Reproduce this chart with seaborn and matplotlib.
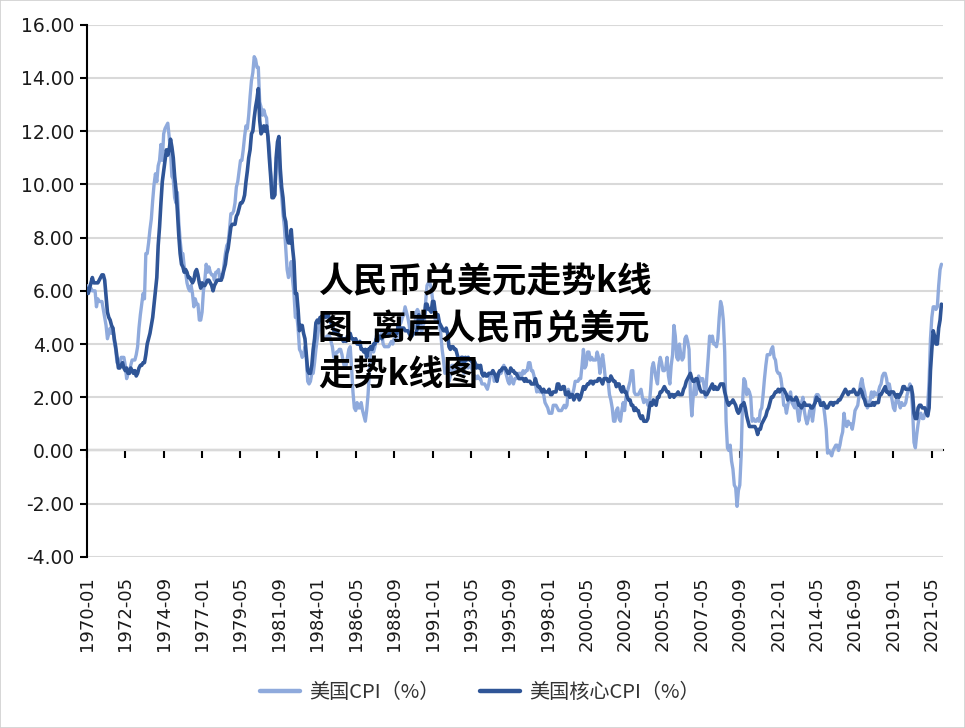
import matplotlib
matplotlib.use("Agg")
import matplotlib.pyplot as plt
from matplotlib.ticker import FormatStrFormatter
from matplotlib.patches import Rectangle
import seaborn as sns
import pandas as pd
import numpy as np

# ---------------- data (monthly YoY %, 1970-01 .. 2021-12) ----------------
months = pd.period_range("1970-01", "2021-12", freq="M").strftime("%Y-%m").tolist()

cpi = [
    6.2, 6.1, 6.0, 6.1, 6.0, 6.0, 6.0, 5.4, 5.7, 5.6, 5.6, 5.6,   # 1970
    5.3, 5.0, 4.7, 4.2, 4.4, 4.6, 4.4, 4.6, 4.1, 3.8, 3.3, 3.3,   # 1971
    3.3, 3.5, 3.5, 3.5, 3.2, 2.7, 2.9, 2.9, 3.2, 3.4, 3.4, 3.4,   # 1972
    3.6, 3.9, 4.6, 5.1, 5.5, 5.9, 5.7, 7.4, 7.4, 7.8, 8.3, 8.7,   # 1973
    9.4, 10.0, 10.4, 10.1, 10.7, 10.9, 11.5, 10.9, 11.9, 12.1, 12.2, 12.3,  # 1974
    11.8, 11.2, 10.3, 10.2, 9.5, 9.3, 9.7, 8.6, 7.9, 7.4, 7.4, 6.9,  # 1975
    6.7, 6.3, 6.1, 6.0, 6.2, 5.9, 5.4, 5.7, 5.5, 5.5, 4.9, 4.9,   # 1976
    5.2, 6.0, 6.4, 7.0, 6.7, 6.9, 6.7, 6.6, 6.6, 6.4, 6.7, 6.7,   # 1977
    6.8, 6.4, 6.6, 6.5, 7.0, 7.4, 7.7, 7.8, 8.3, 8.9, 8.9, 9.0,   # 1978
    9.3, 9.9, 10.1, 10.5, 10.9, 10.9, 11.3, 11.8, 12.2, 12.1, 12.6, 13.3,  # 1979
    13.9, 14.2, 14.8, 14.7, 14.4, 14.4, 13.1, 12.9, 12.6, 12.8, 12.6, 12.5,  # 1980
    11.8, 11.4, 10.5, 10.0, 9.8, 9.6, 10.8, 10.8, 11.0, 10.1, 9.6, 8.9,  # 1981
    8.4, 7.6, 6.8, 6.5, 6.7, 7.1, 6.4, 5.9, 5.0, 5.1, 4.6, 3.8,   # 1982
    3.7, 3.5, 3.6, 3.9, 3.5, 2.6, 2.5, 2.6, 2.9, 2.9, 3.3, 3.8,   # 1983
    4.2, 4.6, 4.8, 4.6, 4.2, 4.2, 4.2, 4.3, 4.3, 4.3, 4.1, 3.9,   # 1984
    3.5, 3.5, 3.7, 3.7, 3.8, 3.8, 3.6, 3.3, 3.1, 3.2, 3.5, 3.8,   # 1985
    3.9, 3.1, 2.2, 1.6, 1.5, 1.8, 1.6, 1.6, 1.8, 1.5, 1.3, 1.1,   # 1986
    1.5, 2.1, 3.0, 3.8, 3.9, 3.7, 3.9, 4.3, 4.4, 4.5, 4.5, 4.4,   # 1987
    4.0, 3.9, 3.9, 3.9, 3.9, 4.0, 4.1, 4.0, 4.2, 4.2, 4.2, 4.4,   # 1988
    4.7, 4.8, 5.0, 5.1, 5.4, 5.2, 5.0, 4.7, 4.3, 4.5, 4.7, 4.6,   # 1989
    5.2, 5.3, 5.2, 4.7, 4.4, 4.7, 4.8, 5.6, 6.2, 6.3, 6.3, 6.1,   # 1990
    5.7, 5.3, 4.9, 4.9, 5.0, 4.7, 4.4, 3.8, 3.4, 2.9, 3.0, 3.1,   # 1991
    2.6, 2.8, 3.2, 3.2, 3.0, 3.1, 3.2, 3.1, 3.0, 3.2, 3.0, 2.9,   # 1992
    3.3, 3.2, 3.1, 3.2, 3.2, 3.0, 2.8, 2.8, 2.7, 2.8, 2.7, 2.7,   # 1993
    2.5, 2.5, 2.5, 2.4, 2.3, 2.5, 2.8, 2.9, 3.0, 2.6, 2.7, 2.7,   # 1994
    2.8, 2.9, 2.9, 3.1, 3.2, 3.0, 2.8, 2.6, 2.5, 2.8, 2.6, 2.5,   # 1995
    2.7, 2.7, 2.8, 2.9, 2.9, 2.8, 3.0, 2.9, 3.0, 3.0, 3.3, 3.3,   # 1996
    3.0, 3.0, 2.8, 2.5, 2.2, 2.3, 2.2, 2.2, 2.2, 2.1, 1.8, 1.7,   # 1997
    1.6, 1.4, 1.4, 1.4, 1.7, 1.7, 1.7, 1.6, 1.5, 1.5, 1.5, 1.6,   # 1998
    1.7, 1.6, 1.7, 2.3, 2.1, 2.0, 2.1, 2.3, 2.6, 2.6, 2.6, 2.7,   # 1999
    2.7, 3.2, 3.8, 3.1, 3.2, 3.7, 3.7, 3.4, 3.5, 3.4, 3.4, 3.4,   # 2000
    3.7, 3.5, 2.9, 3.3, 3.6, 3.2, 2.7, 2.7, 2.6, 2.1, 1.9, 1.6,   # 2001
    1.1, 1.1, 1.5, 1.6, 1.2, 1.1, 1.5, 1.8, 1.5, 2.0, 2.2, 2.4,   # 2002
    2.6, 3.0, 3.0, 2.2, 2.1, 2.1, 2.1, 2.2, 2.3, 2.0, 1.8, 1.9,   # 2003
    1.9, 1.7, 1.7, 2.3, 3.1, 3.3, 3.0, 2.7, 2.5, 3.2, 3.5, 3.3,   # 2004
    3.0, 3.0, 3.1, 3.5, 2.8, 2.5, 3.2, 3.6, 4.7, 4.3, 3.5, 3.4,   # 2005
    4.0, 3.6, 3.4, 3.5, 4.2, 4.3, 4.1, 3.8, 2.1, 1.3, 2.0, 2.5,   # 2006
    2.1, 2.4, 2.8, 2.6, 2.7, 2.7, 2.4, 2.0, 2.8, 3.5, 4.3, 4.1,   # 2007
    4.3, 4.0, 4.0, 3.9, 4.2, 5.0, 5.6, 5.4, 4.9, 3.7, 1.1, 0.1,   # 2008
    0.0, 0.2, -0.4, -0.7, -1.3, -1.4, -2.1, -1.5, -1.3, -0.2, 1.8, 2.7,  # 2009
    2.6, 2.1, 2.3, 2.2, 2.0, 1.1, 1.2, 1.1, 1.1, 1.2, 1.1, 1.5,   # 2010
    1.6, 2.1, 2.7, 3.2, 3.6, 3.6, 3.6, 3.8, 3.9, 3.5, 3.4, 3.0,   # 2011
    2.9, 2.9, 2.7, 2.3, 1.7, 1.7, 1.4, 1.7, 2.0, 2.2, 1.8, 1.7,   # 2012
    1.6, 2.0, 1.5, 1.1, 1.4, 1.8, 2.0, 1.5, 1.2, 1.0, 1.2, 1.5,   # 2013
    1.6, 1.1, 1.5, 2.0, 2.1, 2.1, 2.0, 1.7, 1.7, 1.7, 1.3, 0.8,   # 2014
    -0.1, 0.0, -0.1, -0.2, 0.0, 0.1, 0.2, 0.2, 0.0, 0.2, 0.5, 0.7,  # 2015
    1.4, 1.0, 0.9, 1.1, 1.0, 1.0, 0.8, 1.1, 1.5, 1.6, 1.7, 2.1,   # 2016
    2.5, 2.7, 2.4, 2.2, 1.9, 1.6, 1.7, 1.9, 2.2, 2.0, 2.2, 2.1,   # 2017
    2.1, 2.2, 2.4, 2.5, 2.8, 2.9, 2.9, 2.7, 2.3, 2.5, 2.2, 1.9,   # 2018
    1.6, 1.5, 1.9, 2.0, 1.8, 1.6, 1.8, 1.7, 1.7, 1.8, 2.1, 2.3,   # 2019
    2.5, 2.3, 1.5, 0.3, 0.1, 0.6, 1.0, 1.3, 1.4, 1.2, 1.2, 1.4,   # 2020
    1.4, 1.7, 2.6, 4.2, 5.0, 5.4, 5.4, 5.3, 5.4, 6.2, 6.8, 7.0,   # 2021
]

core = [
    6.1, 5.9, 6.1, 6.3, 6.5, 6.3, 6.3, 6.3, 6.3, 6.4, 6.5, 6.6,   # 1970
    6.6, 6.4, 5.8, 5.2, 5.0, 4.9, 4.7, 4.6, 4.2, 3.9, 3.5, 3.1,   # 1971
    3.1, 3.2, 3.3, 3.1, 3.0, 3.1, 2.9, 2.9, 3.1, 3.0, 2.9, 3.0,   # 1972
    2.8, 2.9, 3.1, 3.2, 3.2, 3.3, 3.3, 3.6, 4.0, 4.2, 4.4, 4.7,   # 1973
    5.0, 5.5, 6.0, 6.5, 7.7, 8.4, 9.3, 10.1, 10.5, 10.9, 11.3, 11.1,  # 1974
    11.3, 11.7, 11.4, 11.0, 10.3, 9.8, 9.0, 8.1, 7.4, 7.0, 6.9, 6.7,  # 1975
    6.8, 6.7, 6.5, 6.5, 6.4, 6.3, 6.4, 6.7, 6.8, 6.6, 6.3, 6.1,   # 1976
    6.3, 6.2, 6.2, 6.3, 6.4, 6.4, 6.3, 6.2, 6.0, 6.2, 6.3, 6.4,   # 1977
    6.4, 6.4, 6.4, 6.6, 6.8, 7.0, 7.4, 7.6, 8.0, 8.4, 8.5, 8.5,   # 1978
    8.5, 8.8, 8.9, 9.1, 9.3, 9.3, 9.4, 9.6, 10.1, 10.5, 11.0, 11.3,  # 1979
    11.9, 12.0, 12.5, 12.9, 13.2, 13.6, 12.4, 11.9, 12.0, 12.2, 12.0, 12.2,  # 1980
    11.8, 11.0, 10.3, 9.5, 9.5, 9.6, 11.0, 11.6, 11.8, 10.6, 9.9, 9.5,  # 1981
    8.8, 8.6, 8.0, 7.8, 7.8, 8.3, 7.6, 7.1, 5.9, 5.9, 5.3, 4.5,   # 1982
    4.7, 4.7, 4.4, 4.2, 3.6, 3.0, 2.9, 2.9, 3.2, 3.8, 4.2, 4.8,   # 1983
    4.9, 4.8, 5.0, 5.0, 5.1, 5.1, 5.0, 5.1, 5.1, 4.9, 4.8, 4.7,   # 1984
    4.5, 4.5, 4.4, 4.4, 4.3, 4.3, 4.2, 4.1, 4.2, 4.1, 4.3, 4.3,   # 1985
    4.4, 4.2, 4.2, 4.1, 4.2, 4.0, 4.0, 4.1, 3.8, 3.8, 3.7, 3.8,   # 1986
    3.5, 3.8, 3.8, 3.9, 3.8, 4.0, 4.0, 4.2, 4.1, 4.3, 4.3, 4.2,   # 1987
    4.3, 4.3, 4.4, 4.3, 4.3, 4.5, 4.5, 4.5, 4.5, 4.4, 4.4, 4.7,   # 1988
    4.6, 4.6, 4.6, 4.6, 4.5, 4.5, 4.5, 4.4, 4.3, 4.3, 4.4, 4.4,   # 1989
    4.4, 4.6, 5.1, 4.8, 4.8, 5.0, 5.0, 5.5, 5.5, 5.3, 5.3, 5.2,   # 1990
    5.6, 5.6, 5.2, 5.1, 5.1, 4.8, 4.7, 4.6, 4.5, 4.5, 4.6, 4.4,   # 1991
    3.9, 3.8, 3.9, 3.9, 3.8, 3.8, 3.6, 3.4, 3.3, 3.5, 3.5, 3.3,   # 1992
    3.5, 3.4, 3.5, 3.4, 3.4, 3.3, 3.4, 3.3, 3.1, 3.2, 3.1, 3.2,   # 1993
    2.9, 2.8, 2.9, 2.8, 2.8, 2.9, 2.9, 2.9, 3.0, 2.9, 2.8, 2.6,   # 1994
    2.9, 3.0, 3.0, 3.1, 3.1, 3.1, 3.0, 2.9, 2.9, 3.1, 3.0, 3.0,   # 1995
    2.9, 2.9, 2.8, 2.7, 2.7, 2.7, 2.7, 2.6, 2.7, 2.6, 2.6, 2.6,   # 1996
    2.5, 2.5, 2.5, 2.7, 2.5, 2.4, 2.4, 2.3, 2.2, 2.3, 2.2, 2.2,   # 1997
    2.2, 2.3, 2.1, 2.1, 2.2, 2.2, 2.2, 2.5, 2.5, 2.3, 2.3, 2.4,   # 1998
    2.4, 2.1, 2.1, 2.2, 2.0, 2.1, 2.1, 1.9, 2.0, 2.1, 2.1, 1.9,   # 1999
    2.0, 2.2, 2.4, 2.3, 2.4, 2.5, 2.5, 2.6, 2.6, 2.5, 2.6, 2.6,   # 2000
    2.6, 2.7, 2.7, 2.6, 2.5, 2.7, 2.7, 2.7, 2.6, 2.6, 2.8, 2.7,   # 2001
    2.6, 2.6, 2.4, 2.5, 2.5, 2.3, 2.2, 2.4, 2.2, 2.2, 2.0, 1.9,   # 2002
    1.9, 1.7, 1.7, 1.5, 1.6, 1.5, 1.5, 1.3, 1.2, 1.3, 1.1, 1.1,   # 2003
    1.1, 1.2, 1.6, 1.8, 1.7, 1.9, 1.8, 1.7, 2.0, 2.0, 2.2, 2.2,   # 2004
    2.3, 2.4, 2.3, 2.2, 2.2, 2.0, 2.1, 2.1, 2.0, 2.1, 2.1, 2.2,   # 2005
    2.1, 2.1, 2.1, 2.3, 2.4, 2.6, 2.7, 2.8, 2.9, 2.7, 2.6, 2.6,   # 2006
    2.7, 2.7, 2.5, 2.3, 2.2, 2.2, 2.2, 2.1, 2.1, 2.2, 2.3, 2.4,   # 2007
    2.5, 2.3, 2.4, 2.3, 2.3, 2.4, 2.5, 2.5, 2.5, 2.2, 2.0, 1.8,   # 2008
    1.7, 1.8, 1.8, 1.9, 1.8, 1.7, 1.5, 1.4, 1.5, 1.7, 1.7, 1.8,   # 2009
    1.6, 1.3, 1.1, 0.9, 0.9, 0.9, 0.9, 0.9, 0.8, 0.6, 0.8, 0.8,   # 2010
    1.0, 1.1, 1.2, 1.3, 1.5, 1.6, 1.8, 2.0, 2.0, 2.1, 2.2, 2.2,   # 2011
    2.3, 2.2, 2.3, 2.3, 2.3, 2.2, 2.1, 1.9, 2.0, 2.0, 1.9, 1.9,   # 2012
    1.9, 2.0, 1.9, 1.7, 1.7, 1.6, 1.7, 1.8, 1.7, 1.7, 1.7, 1.7,   # 2013
    1.6, 1.6, 1.7, 1.8, 2.0, 1.9, 1.9, 1.7, 1.7, 1.8, 1.7, 1.6,   # 2014
    1.6, 1.7, 1.8, 1.8, 1.7, 1.8, 1.8, 1.8, 1.9, 1.9, 2.0, 2.1,   # 2015
    2.2, 2.3, 2.2, 2.1, 2.2, 2.2, 2.2, 2.3, 2.2, 2.1, 2.1, 2.2,   # 2016
    2.3, 2.2, 2.0, 1.9, 1.7, 1.7, 1.7, 1.7, 1.7, 1.8, 1.7, 1.8,   # 2017
    1.8, 1.8, 2.1, 2.1, 2.2, 2.3, 2.4, 2.2, 2.2, 2.1, 2.2, 2.2,   # 2018
    2.2, 2.1, 2.0, 2.1, 2.0, 2.1, 2.2, 2.4, 2.4, 2.3, 2.3, 2.3,   # 2019
    2.3, 2.4, 2.1, 1.4, 1.2, 1.2, 1.6, 1.7, 1.7, 1.6, 1.6, 1.6,   # 2020
    1.4, 1.3, 1.6, 3.0, 3.8, 4.5, 4.3, 4.0, 4.0, 4.6, 4.9, 5.5,   # 2021
]

series_names = ["美国CPI（%）", "美国核心CPI（%）"]
y_ticks = [-4, -2, 0, 2, 4, 6, 8, 10, 12, 14, 16]
tick_step = 28
overlay_text = "人民币兑美元走势k线\n图_离岸人民币兑美元\n走势k线图"

LIGHT = "#8FAADC"
DARK = "#2F5597"

# ---------------- figure ----------------
sns.set_theme(style="white")
plt.rcParams["font.family"] = ["DejaVu Sans", "Noto Sans CJK SC"]

fig = plt.figure(figsize=(9.65, 7.28), dpi=100)
ax = fig.add_axes([0.090, 0.235, 0.887, 0.731])

df = pd.DataFrame({"idx": np.arange(len(months)), "cpi": cpi, "core": core})
sns.lineplot(data=df, x="idx", y="cpi", ax=ax, color=LIGHT, lw=2.4,
             label=series_names[0], zorder=3)
sns.lineplot(data=df, x="idx", y="core", ax=ax, color=DARK, lw=2.6,
             label=series_names[1], zorder=4)

ax.set_xlim(0, 624)
ax.set_ylim(-4, 16)
ax.set_yticks(y_ticks)
ax.yaxis.set_major_formatter(FormatStrFormatter("%.2f"))
ax.set_xlabel("")
ax.set_ylabel("")
ax.grid(axis="y", color="#d9d9d9", lw=1.5)
ax.grid(axis="x", visible=False)
ax.set_axisbelow(True)
for s in ["top", "right", "bottom"]:
    ax.spines[s].set_visible(False)
ax.spines["left"].set_color("black")
ax.spines["left"].set_linewidth(1.5)

tick_pos = list(range(0, len(months), tick_step))
ax.set_xticks(tick_pos)
ax.set_xticklabels([months[i] for i in tick_pos], rotation=90)
ax.tick_params(axis="x", length=0, pad=14, labelsize=13, labelcolor="#1a1a1a")
ax.tick_params(axis="y", left=True, length=5, width=1.5, color="black",
               direction="out", labelsize=13.5, labelcolor="#1a1a1a", pad=4)

# x-axis line at y = 0 with downward tick marks
sec = ax.secondary_xaxis(0.2)
sec.set_xticks(tick_pos)
sec.set_xticklabels([])
sec.tick_params(axis="x", length=6, width=1.5, direction="out", color="black")
sec.spines["bottom"].set_color("black")
sec.spines["bottom"].set_linewidth(1.5)

# legend
leg = ax.legend(loc="center", bbox_to_anchor=(0.497, 0.049),
                bbox_transform=fig.transFigure, ncol=2, frameon=False,
                prop={"family": ["Noto Sans CJK SC"], "size": 14.5},
                handlelength=2.0, columnspacing=2.0, handletextpad=0.45)
for t in leg.get_texts():
    t.set_color("#333333")
for h in leg.get_lines():
    h.set_linewidth(3.2)

# overlay title text
fig.text(318 / 965, 1 - 264 / 728, overlay_text, ha="left", va="top",
         fontsize=25, fontweight="bold", color="black",
         family=["Noto Sans CJK SC"], linespacing=1.42, zorder=10)

# light border around figure
fig.patches.append(Rectangle((0, 0), 1, 1, transform=fig.transFigure,
                             fill=False, edgecolor="#d0d0d0", lw=1.2))

fig.savefig("out.png", dpi=100)
